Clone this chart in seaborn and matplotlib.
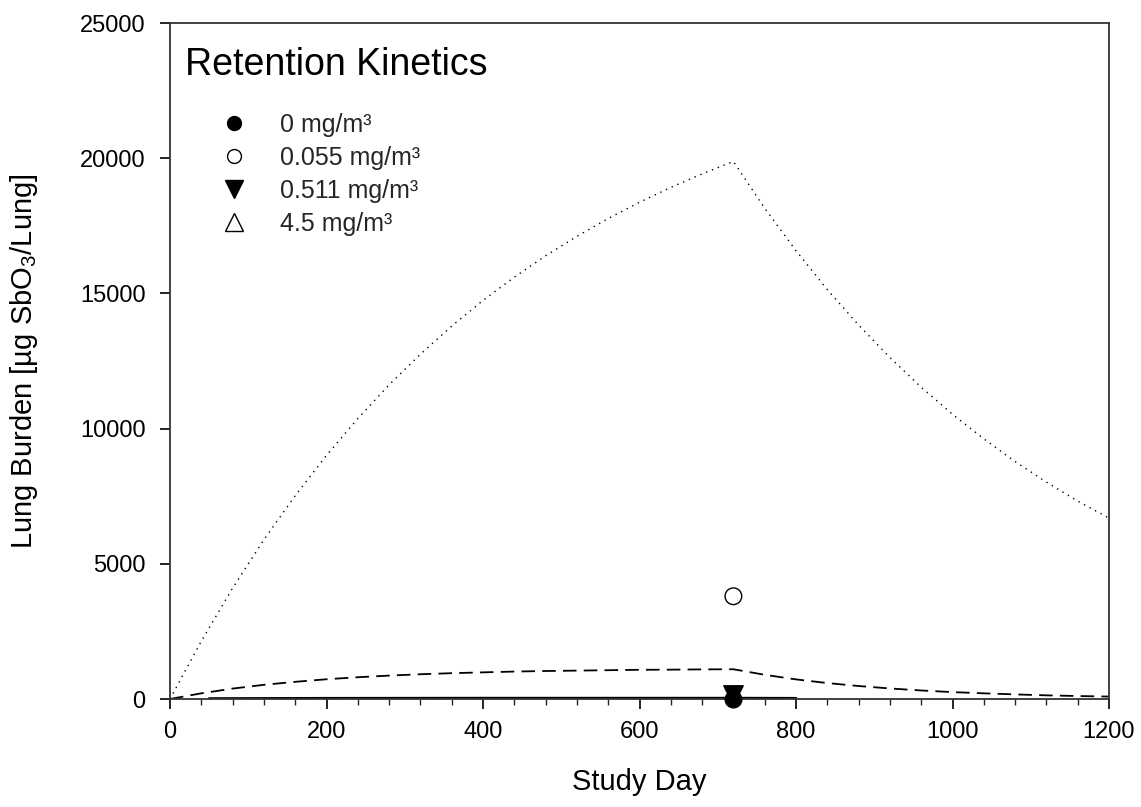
import matplotlib
matplotlib.use("Agg")
import matplotlib.pyplot as plt
from matplotlib.lines import Line2D
from matplotlib.ticker import MultipleLocator
import seaborn as sns

# ---------------- data ----------------
model_days = [0, 40, 80, 120, 160, 200, 240, 280, 320, 360, 400, 440, 480, 520,
              560, 600, 640, 680, 720, 760, 800, 840, 880, 920, 960, 1000, 1040,
              1080, 1120, 1160, 1200]
model_4_5 = [0, 2140, 4100, 5890, 7520, 9010, 10370, 11620, 12750, 13790, 14740,
             15600, 16390, 17110, 17770, 18370, 18920, 19420, 19880, 18150, 16580,
             15140, 13830, 12630, 11530, 10530, 9620, 8780, 8020, 7320, 6690]
model_0_511 = [0, 210, 385, 525, 635, 730, 805, 865, 915, 955, 985, 1015, 1035,
               1050, 1065, 1080, 1085, 1095, 1100, 895, 725, 590, 480, 390, 315,
               255, 210, 170, 135, 110, 90]
model_0_055_days = [50, 200, 400, 600, 720, 800]
model_0_055 = [15, 25, 30, 30, 30, 25]

obs_days_0 = [720]
obs_0 = [0]
obs_days_0_055 = [720]
obs_0_055 = [3800]
obs_days_0_511 = [720]
obs_0_511 = [150]
obs_days_4_5 = []
obs_4_5 = []

legend_labels = ["0 mg/m³", "0.055 mg/m³", "0.511 mg/m³", "4.5 mg/m³"]
legend_title = "Retention Kinetics"
x_ticks = [0, 200, 400, 600, 800, 1000, 1200]
y_ticks = [0, 5000, 10000, 15000, 20000, 25000]

# ---------------- style ----------------
sns.set_theme(style="ticks")
plt.rcParams["font.family"] = ["Liberation Sans", "DejaVu Sans"]
plt.rcParams["mathtext.fontset"] = "custom"
plt.rcParams["mathtext.rm"] = "Liberation Sans"
plt.rcParams["mathtext.it"] = "Liberation Sans"
plt.rcParams["mathtext.default"] = "regular"

W, H = 1141, 807
fig = plt.figure(figsize=(W / 100, H / 100), dpi=100)
ax = fig.add_axes([170 / W, 1 - 699 / H, 939 / W, 676 / H])

# model lines
sns.lineplot(x=model_days, y=model_4_5, ax=ax, color="black", lw=1.0,
             linestyle=(0, (1, 3.5)))
sns.lineplot(x=model_days, y=model_0_511, ax=ax, color="black", lw=1.3,
             linestyle=(0, (7.5, 4)))
sns.lineplot(x=model_0_055_days, y=model_0_055, ax=ax, color="black", lw=2.0,
             linestyle="-")

# observed points
sns.scatterplot(x=obs_days_0_511, y=obs_0_511, ax=ax, marker="v", s=196,
                color="black", edgecolor="black", linewidth=1, clip_on=False, zorder=5)
sns.scatterplot(x=obs_days_0, y=obs_0, ax=ax, marker="o", s=144,
                color="black", edgecolor="black", linewidth=1, clip_on=False, zorder=6)
sns.scatterplot(x=obs_days_0_055, y=obs_0_055, ax=ax, marker="o", s=144,
                facecolor="none", edgecolor="black", linewidth=1, clip_on=False, zorder=6)
if len(obs_days_4_5):
    sns.scatterplot(x=obs_days_4_5, y=obs_4_5, ax=ax, marker="^", s=196,
                    facecolor="none", edgecolor="black", linewidth=1, zorder=6)

ax.set_xlim(0, 1200)
ax.set_ylim(0, 25000)
ax.set_xticks(x_ticks)
ax.set_yticks(y_ticks)
ax.xaxis.set_minor_locator(MultipleLocator(40))
ax.tick_params(axis="both", which="major", direction="out", length=7.2, width=1.2,
               labelsize=17, colors="black", top=False, right=False)
ax.tick_params(axis="x", which="major", pad=9)
ax.tick_params(axis="y", which="major", pad=10.5)
ax.tick_params(axis="x", which="minor", direction="out", length=4.3, width=1.0,
               top=False)
for s in ax.spines.values():
    s.set_visible(True)
    s.set_color("#333333")
    s.set_linewidth(1.3)

ax.set_xlabel("Study Day", fontsize=21, color="black")
ax.set_ylabel("Lung Burden [µg SbO$_3$/Lung]", fontsize=21, color="black")
ax.xaxis.set_label_coords(0.5, -0.102)
ax.yaxis.set_label_coords(-0.1384, 0.5)

# legend
ax.text(0.016, 0.923, legend_title, transform=ax.transAxes, fontsize=27,
        va="baseline", ha="left", color="black")
handles = [
    Line2D([], [], ls="none", marker="o", ms=10, mfc="black", mec="black"),
    Line2D([], [], ls="none", marker="o", ms=10, mfc="none", mec="black", mew=1),
    Line2D([], [], ls="none", marker="v", ms=12.5, mfc="black", mec="black"),
    Line2D([], [], ls="none", marker="^", ms=12.5, mfc="none", mec="black", mew=1),
]
ax.legend(handles, legend_labels, loc="upper left", bbox_to_anchor=(0.0469, 0.8668),
          frameon=False, fontsize=18, borderpad=0, borderaxespad=0,
          handlelength=1.6, handletextpad=1.04, labelspacing=0.36)

fig.savefig("out.png", dpi=100)
